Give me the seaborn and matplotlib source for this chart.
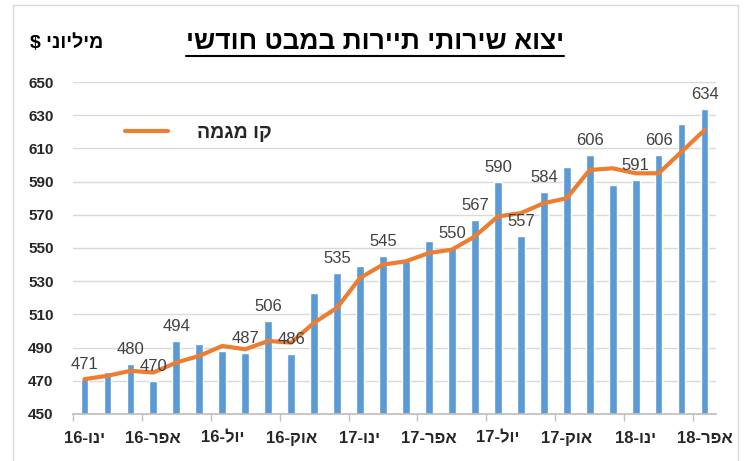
import re
import matplotlib
matplotlib.use('Agg')
import matplotlib.pyplot as plt
import seaborn as sns
import pandas as pd
from matplotlib.lines import Line2D

# Monthly tourism services export, million $ (Jan 2016 - Apr 2018)
months = ['ינו-16', 'פבר-16', 'מרץ-16', 'אפר-16', 'מאי-16', 'יונ-16',
          'יול-16', 'אוג-16', 'ספט-16', 'אוק-16', 'נוב-16', 'דצמ-16',
          'ינו-17', 'פבר-17', 'מרץ-17', 'אפר-17', 'מאי-17', 'יונ-17',
          'יול-17', 'אוג-17', 'ספט-17', 'אוק-17', 'נוב-17', 'דצמ-17',
          'ינו-18', 'פבר-18', 'מרץ-18', 'אפר-18']
values = [471, 475, 480, 470, 494, 492, 488, 487, 506, 486, 523, 535,
          539, 545, 542, 554, 550, 567, 590, 557, 584, 599, 606, 588,
          591, 606, 625, 634]
trend = [471, 473, 476, 475, 481, 485, 491, 489, 494, 493, 505, 514,
         532, 540, 542, 547, 549, 557, 569, 571, 577, 580, 597, 598,
         595, 595, 608, 621]
# bars that carry a value label in the original
labelled = [0, 2, 3, 4, 7, 8, 9, 11, 13, 16, 17, 18, 19, 20, 22, 24, 25, 27]

title = 'יצוא שירותי תיירות במבט חודשי'
units = 'מיליוני $'
trend_name = 'קו מגמה'


def visual(s):
    # matplotlib has no bidi: put Hebrew in visual (left-to-right) order
    parts = re.findall(r'\d+|\D+', s)
    return ''.join(p if p.isdigit() else p[::-1] for p in reversed(parts))


sns.set_theme(style='white')
plt.rcParams['font.family'] = ['Liberation Sans', 'DejaVu Sans']

W, H = 746, 461
fig = plt.figure(figsize=(W / 100, H / 100), dpi=100)
ax = fig.add_axes([73 / W, 1 - 414 / H, (716 - 73) / W, (414 - 82) / H])

df = pd.DataFrame({'month': months, 'value': values})
sns.barplot(data=df, x='month', y='value', color='#5B9BD5', saturation=1,
            width=0.34, ax=ax, zorder=2)
sns.lineplot(x=list(range(len(trend))), y=trend, color='#ED7D31', lw=3,
             ax=ax, zorder=3, legend=False)

for i in labelled:
    ax.annotate(str(values[i]), (i, values[i]), xytext=(0, 5),
                textcoords='offset points', ha='center', va='bottom',
                fontsize=12, color='#404040', zorder=4)

ax.set_xlim(-0.5, len(months) - 0.5)
ax.set_ylim(450, 650)
ax.set_yticks(range(450, 651, 20))
ax.set_xticks(range(0, len(months), 3))
ax.set_xticklabels([visual(months[i]) for i in range(0, len(months), 3)],
                   fontsize=12, fontweight='bold', color='#262626')
ax.set_xticks([x - 0.5 for x in range(0, len(months), 3)], minor=True)
for t in ax.get_yticklabels():
    t.set_fontsize(11)
    t.set_fontweight('bold')
    t.set_color('#262626')
ax.tick_params(axis='x', which='major', length=0, pad=12)
ax.tick_params(axis='x', which='minor', length=5, width=1, color='#BFBFBF',
               bottom=True)
ax.tick_params(axis='y', length=0, pad=14)
ax.set_xlabel('')
ax.set_ylabel('')
ax.grid(axis='y', color='#D9D9D9', lw=1, zorder=0)
ax.set_axisbelow(True)
for s in ['top', 'right', 'left']:
    ax.spines[s].set_visible(False)
ax.spines['bottom'].set_color('#BFBFBF')

ax.legend(handles=[Line2D([], [], color='#ED7D31', lw=3)],
          labels=[visual(trend_name)], loc='center left',
          bbox_to_anchor=(125 / W, 1 - 133 / H),
          bbox_transform=fig.transFigure, frameon=False, borderpad=0,
          borderaxespad=0, handlelength=2.2, handletextpad=1.5,
          prop={'weight': 'bold', 'size': 14})

# title with underline
t = fig.text(375 / W, 1 - 42 / H, visual(title), ha='center', va='center',
             fontsize=19, fontweight='bold', color='black')
fig.canvas.draw()
bb = t.get_window_extent().transformed(fig.transFigure.inverted())
fig.add_artist(Line2D([bb.x0, bb.x1], [bb.y0 - 0.004, bb.y0 - 0.004],
                      color='black', lw=1.5))

fig.text(30 / W, 1 - 43 / H, visual(units), ha='left', va='center',
         fontsize=14, fontweight='bold', color='black')

# light chart frame
for xs, ys in [([13 / W, 13 / W], [0, 1 - 5 / H]),
               ([738 / W, 738 / W], [0, 1 - 5 / H]),
               ([13 / W, 738 / W], [1 - 5 / H, 1 - 5 / H])]:
    fig.add_artist(Line2D(xs, ys, color='#D9D9D9', lw=1))

fig.savefig('out.png', dpi=100)
